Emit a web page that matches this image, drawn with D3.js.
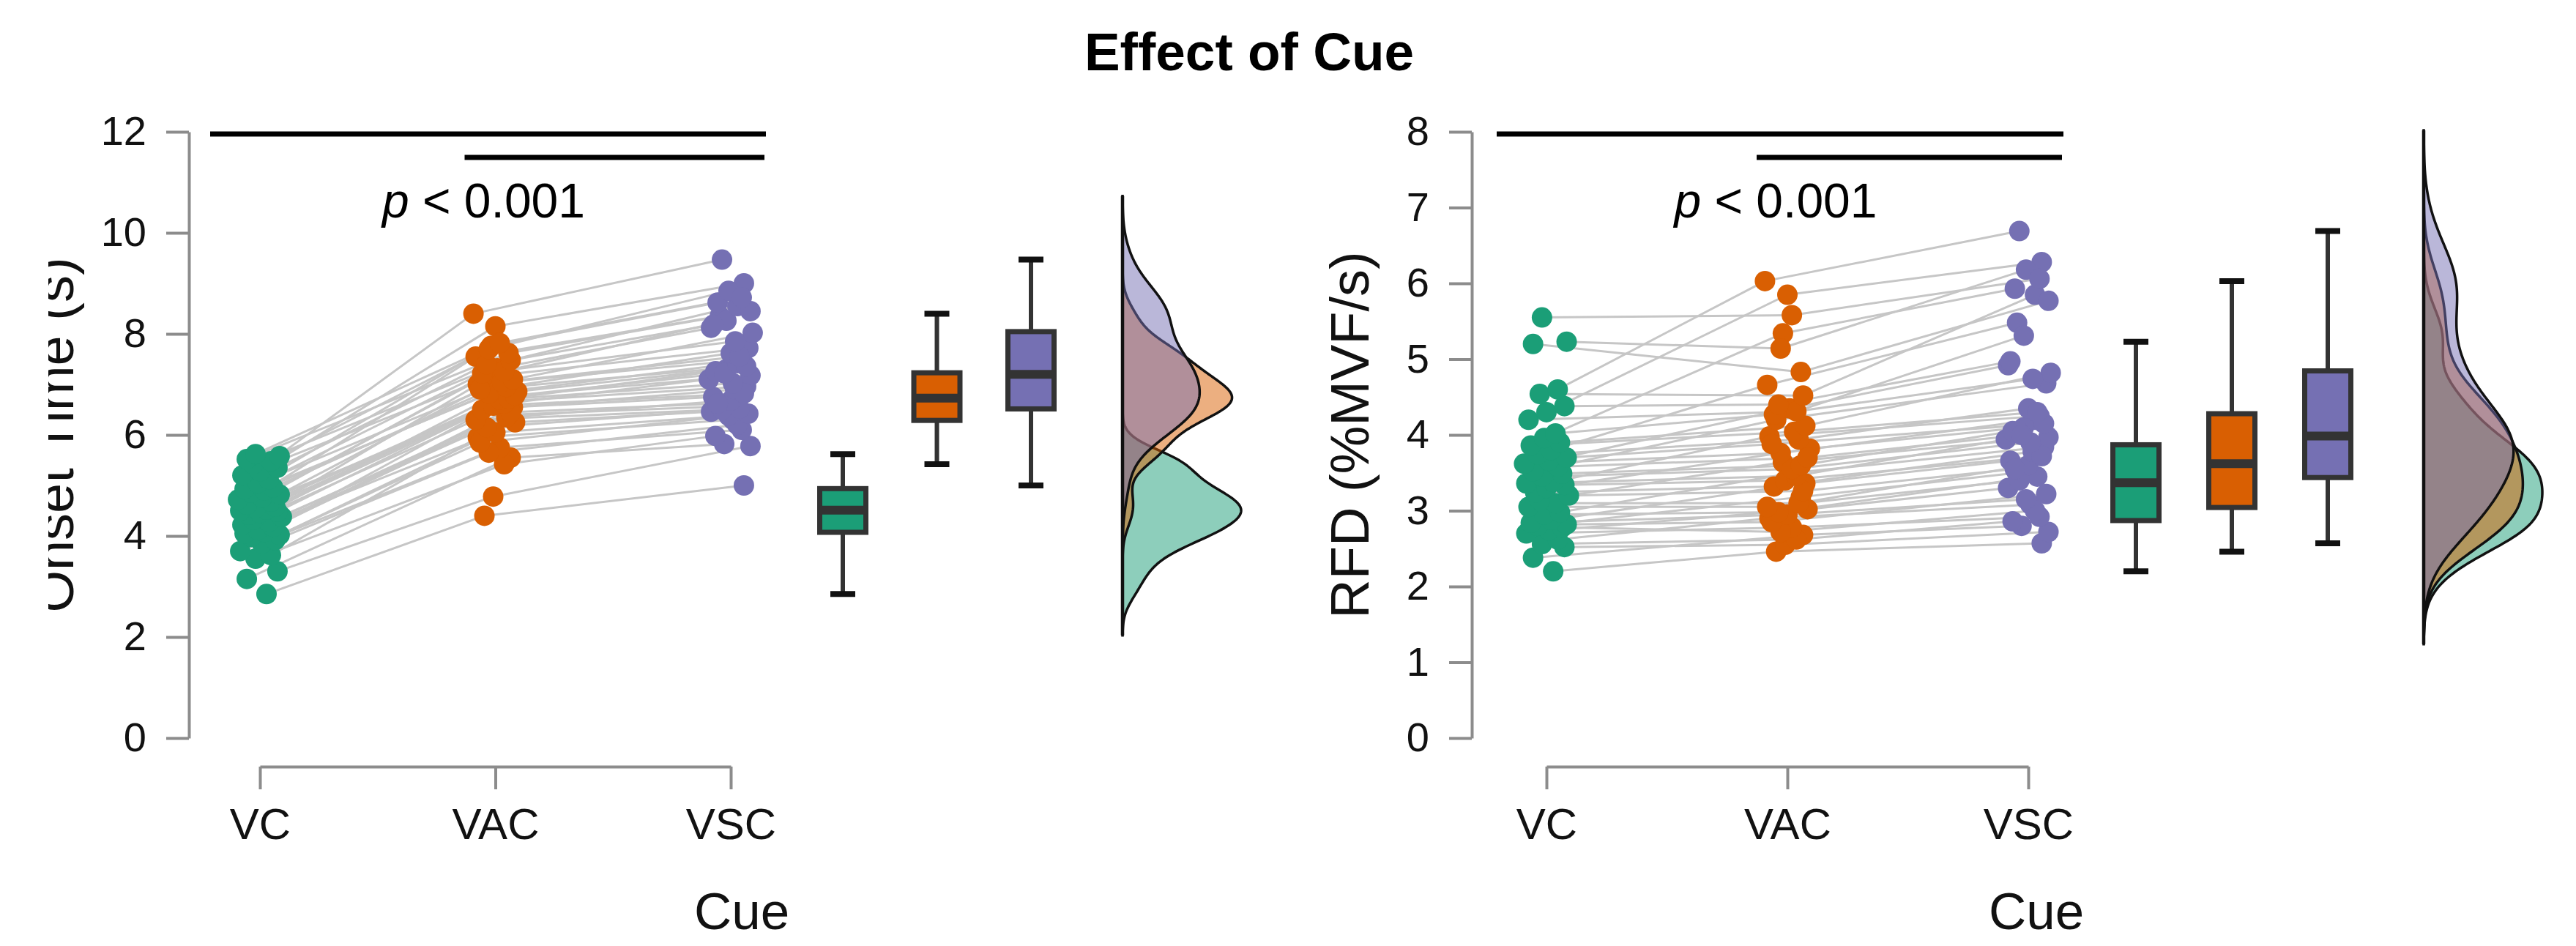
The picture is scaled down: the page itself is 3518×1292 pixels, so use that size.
<!DOCTYPE html>
<html>
<head>
<meta charset="utf-8">
<script src="https://cdn.jsdelivr.net/npm/d3@7"></script>
<style>
  body { margin: 0; background: #fff; }
  svg text { font-family: "Liberation Sans", Arial, sans-serif; }
</style>
</head>
<body>
<svg id="chart" width="3518" height="1292"></svg>
<script>
/* ---------- data (one value per subject, same subject order in every array) ---------- */
const cues = ["VC", "VAC", "VSC"];
const cueColors = ["#1b9e77", "#d95f02", "#7570b3"];

const onsetVC  = [2.85,3.15,3.30,3.55,3.62,3.70,3.85,3.92,3.98,4.02,4.05,4.08,4.12,4.18,4.22,4.28,4.32,4.38,4.42,4.46,4.48,4.50,
                  4.52,4.55,4.58,4.62,4.68,4.72,4.76,4.82,4.86,4.90,4.93,4.96,5.05,5.12,5.20,5.28,5.35,5.42,5.48,5.52,5.58,5.62];
const onsetVAC = [4.40,5.55,4.78,5.42,5.95,5.75,6.25,5.65,6.40,5.85,6.05,6.55,6.15,6.66,6.30,6.35,6.74,6.45,6.50,6.86,6.58,6.62,
                  7.00,6.70,6.72,7.15,6.78,6.82,7.32,6.90,6.95,7.55,7.05,7.10,7.76,7.22,7.26,8.15,7.40,7.48,8.40,7.62,7.70,7.82];
const onsetVSC = [5.00,5.82,5.78,5.98,6.30,6.10,6.46,6.20,6.56,6.42,6.38,6.75,6.52,6.96,6.50,6.68,7.18,6.62,6.90,7.30,6.82,7.10,
                  7.48,7.02,7.26,7.72,7.22,7.42,8.12,7.36,7.62,8.35,7.55,8.02,8.62,7.85,8.26,9.00,8.18,8.55,9.47,8.45,8.85,8.72];

const rfdVC  = [2.20,2.38,2.52,2.56,2.62,2.70,2.74,2.78,2.80,2.82,2.84,2.88,2.95,2.98,3.05,3.10,3.14,3.20,3.24,3.30,3.34,3.36,
                3.38,3.45,3.49,3.52,3.58,3.62,3.66,3.70,3.74,3.80,3.86,3.90,3.96,4.02,4.20,4.30,4.38,4.54,4.60,5.20,5.23,5.55];
const rfdVAC = [2.46,2.68,2.55,2.62,2.90,2.78,3.02,2.72,3.18,2.85,2.95,3.36,2.98,3.50,3.05,3.10,3.64,3.26,3.32,3.82,3.40,3.46,
                3.98,3.55,3.60,4.20,3.70,3.76,4.35,3.88,3.94,4.66,4.04,4.12,5.34,4.27,4.31,5.85,4.40,4.52,6.03,4.83,5.14,5.58];
const rfdVSC = [2.57,2.80,2.72,2.86,3.08,2.92,3.30,3.00,3.50,3.22,3.15,3.66,3.45,3.84,3.40,3.60,3.97,3.55,3.78,4.10,3.72,3.94,
                4.25,3.90,4.05,4.68,4.00,4.20,4.92,4.15,4.35,5.48,4.30,4.82,5.93,4.74,5.31,6.28,4.97,5.85,6.69,5.77,6.18,6.06];

// horizontal jitter of each subject's dot, as a fraction of the jitter half-width
const jitVC  = [0.3,-0.6,0.8,-0.2,0.5,-0.9,0.1,0.7,-0.4,0.9,-0.7,0.2,-0.1,0.6,-0.8,0.4,-0.3,1.0,-0.5,0.0,0.8,-0.9,
                0.3,-0.2,0.7,-0.6,0.5,-1.0,0.1,0.9,-0.4,0.2,-0.7,0.6,-0.1,0.4,-0.8,0.0,0.8,-0.3,0.5,-0.6,0.9,-0.2];
const jitVAC = [-0.5,0.7,-0.1,0.4,-0.8,0.2,0.9,-0.3,0.6,-0.7,0.0,0.8,-0.4,0.3,-0.9,0.5,-0.2,0.7,-0.6,1.0,-0.1,0.4,
                -0.8,0.2,0.6,-0.5,0.9,-0.3,0.1,-0.7,0.5,-0.9,0.3,0.8,-0.2,-0.6,0.4,0.0,-0.4,0.7,-1.0,0.6,-0.3,0.2];
const jitVSC = [0.6,-0.3,0.9,-0.7,0.1,0.5,-0.9,0.3,-0.5,0.8,-0.1,-0.8,0.4,0.7,-0.4,0.0,0.9,-0.6,0.2,-0.2,0.6,-1.0,
                0.5,0.1,-0.7,0.8,-0.3,0.3,-0.9,0.7,0.0,-0.5,0.4,1.0,-0.6,0.2,-0.2,0.6,-0.8,0.3,-0.4,0.9,-0.1,0.5];

const onsetTicks = [0, 2, 4, 6, 8, 10, 12];
const rfdTicks   = [0, 1, 2, 3, 4, 5, 6, 7, 8];
const pLabel = "< 0.001";

/* ---------- helpers ---------- */
const FONT = '"Liberation Sans", Arial, sans-serif';
const AXIS_GREY = "#8c8c8c";
const svg = d3.select("#chart");

function boxStats(v) {
  const s = v.slice().sort(d3.ascending);
  const q1 = d3.quantileSorted(s, 0.25), med = d3.quantileSorted(s, 0.5), q3 = d3.quantileSorted(s, 0.75);
  const iqr = q3 - q1;
  const lo = d3.min(s.filter(d => d >= q1 - 1.5 * iqr));
  const hi = d3.max(s.filter(d => d <= q3 + 1.5 * iqr));
  return { q1, med, q3, lo, hi };
}

// gaussian KDE, R defaults (bw.nrd0, cut = 3)
function kde(v) {
  const s = v.slice().sort(d3.ascending);
  const iqr = d3.quantileSorted(s, 0.75) - d3.quantileSorted(s, 0.25);
  const bw = 0.9 * Math.min(d3.deviation(s), iqr / 1.34) * Math.pow(s.length, -0.2);
  const lo = s[0] - 3 * bw, hi = s[s.length - 1] + 3 * bw;
  return d3.range(300).map(i => {
    const t = lo + (hi - lo) * i / 299;
    const d = d3.mean(s, x => Math.exp(-0.5 * ((t - x) / bw) ** 2)) / (bw * Math.sqrt(2 * Math.PI));
    return [t, d];
  });
}

/* ---------- one raincloud panel ---------- */
function drawPanel(cfg) {
  const g = svg.append("g");
  const y = d3.scaleLinear().domain([0, d3.max(cfg.ticks)]).range([1008, 180]);
  const x = d3.scalePoint().domain(cues).range(cfg.catRange);
  const xb = d3.scalePoint().domain(cues).range(cfg.boxRange);
  const jw = x.step() * 0.093;
  const jit = [jitVC, jitVAC, jitVSC];
  const series = cfg.values;

  // y axis
  const gy = g.append("g").attr("transform", `translate(${cfg.axisX},0)`)
    .call(d3.axisLeft(y).tickValues(cfg.ticks).tickSize(31).tickSizeOuter(0).tickPadding(27));
  gy.attr("font-family", FONT).attr("font-size", 56);
  gy.selectAll(".domain, .tick line").attr("stroke", AXIS_GREY).attr("stroke-width", 4);
  gy.selectAll(".tick text").attr("fill", "#111");

  // x axis
  const gx = g.append("g").attr("transform", "translate(0,1047)")
    .call(d3.axisBottom(x).tickSize(31).tickSizeOuter(0).tickPadding(25));
  gx.attr("font-family", FONT).attr("font-size", 60);
  gx.selectAll(".domain, .tick line").attr("stroke", AXIS_GREY).attr("stroke-width", 4);
  gx.selectAll(".tick text").attr("fill", "#111");

  g.append("text").attr("x", x("VSC") + cfg.cueDx).attr("y", 1269).attr("text-anchor", "middle")
    .attr("font-size", 71).attr("fill", "#111").text("Cue");

  // y label (left one is cut off in the original figure)
  const lg = g.append("g");
  if (cfg.clipX) {
    svg.append("clipPath").attr("id", "clip-" + cfg.key)
      .append("rect").attr("x", cfg.clipX).attr("y", 0).attr("width", 400).attr("height", 1292);
    lg.attr("clip-path", `url(#clip-${cfg.key})`);
  }
  lg.append("text")
    .attr("transform", `translate(${cfg.labelX},${(y.range()[0] + y.range()[1]) / 2}) rotate(-90)`)
    .attr("text-anchor", "middle").attr("font-size", 74).attr("fill", "#111").text(cfg.yLabel);

  // significance bars and p value
  const top = y.range()[1];
  g.append("line").attr("x1", x("VC") - 68).attr("x2", x("VSC") + 48)
    .attr("y1", top + 3).attr("y2", top + 3).attr("stroke", "#000").attr("stroke-width", 7);
  g.append("line").attr("x1", x("VAC") - 42).attr("x2", x("VSC") + 46)
    .attr("y1", top + 35).attr("y2", top + 35).attr("stroke", "#000").attr("stroke-width", 7);
  const pt = g.append("text").attr("x", (x("VC") + x("VSC")) / 2 - 16).attr("y", 297)
    .attr("text-anchor", "middle").attr("font-size", 66).attr("fill", "#000");
  pt.append("tspan").attr("font-style", "italic").text("p");
  pt.append("tspan").text(" " + pLabel);

  // paired lines
  const px = (c, i) => x(cues[c]) + jit[c][i] * jw;
  const n = series[0].length;
  const lines = g.append("g").attr("stroke", "#c6c6c6").attr("stroke-width", 3).attr("fill", "none");
  for (let c = 0; c < 2; c++) {
    lines.selectAll(null).data(d3.range(n)).join("line")
      .attr("x1", i => px(c, i)).attr("y1", i => y(series[c][i]))
      .attr("x2", i => px(c + 1, i)).attr("y2", i => y(series[c + 1][i]));
  }

  // dots
  series.forEach((vals, c) => {
    g.append("g").selectAll("circle").data(vals).join("circle")
      .attr("cx", (d, i) => px(c, i)).attr("cy", d => y(d)).attr("r", 14)
      .attr("fill", cueColors[c]);
  });

  // box plots
  series.forEach((vals, c) => {
    const b = boxStats(vals), cx = xb(cues[c]), hw = 31.5;
    const bg = g.append("g");
    bg.append("line").attr("x1", cx).attr("x2", cx).attr("y1", y(b.hi)).attr("y2", y(b.q3))
      .attr("stroke", "#333").attr("stroke-width", 6);
    bg.append("line").attr("x1", cx).attr("x2", cx).attr("y1", y(b.q1)).attr("y2", y(b.lo))
      .attr("stroke", "#333").attr("stroke-width", 6);
    [b.hi, b.lo].forEach(v => bg.append("line").attr("x1", cx - 17).attr("x2", cx + 17)
      .attr("y1", y(v)).attr("y2", y(v)).attr("stroke", "#111").attr("stroke-width", 8));
    bg.append("rect").attr("x", cx - hw).attr("width", 2 * hw)
      .attr("y", y(b.q3)).attr("height", y(b.q1) - y(b.q3))
      .attr("fill", cueColors[c]).attr("stroke", "#333").attr("stroke-width", 7);
    bg.append("line").attr("x1", cx - hw).attr("x2", cx + hw).attr("y1", y(b.med)).attr("y2", y(b.med))
      .attr("stroke", "#333").attr("stroke-width", 12);
  });

  // half violins (densities share one width scale)
  const dens = series.map(kde);
  const w = d3.scaleLinear().domain([0, d3.max(dens, d => d3.max(d, p => p[1]))]).range([0, 162]);
  const area = d3.area().y(p => y(p[0])).x0(cfg.densX).x1(p => cfg.densX + w(p[1]));
  dens.forEach((d, c) => {
    g.append("path").datum(d).attr("d", area)
      .attr("fill", cueColors[c]).attr("fill-opacity", 0.5)
      .attr("stroke", "#111").attr("stroke-width", 3.5);
  });
  const allT = dens.flat().map(p => p[0]);
  g.append("line").attr("x1", cfg.densX).attr("x2", cfg.densX)
    .attr("y1", y(d3.max(allT))).attr("y2", y(d3.min(allT)))
    .attr("stroke", "#111").attr("stroke-width", 4.5);
}

/* ---------- title + panels ---------- */
svg.append("rect").attr("width", 3518).attr("height", 1292).attr("fill", "#fff");
svg.append("text").attr("x", 1706).attr("y", 96).attr("text-anchor", "middle")
  .attr("font-size", 73).attr("font-weight", "bold").attr("fill", "#000").text("Effect of Cue");

drawPanel({ key: "onset", values: [onsetVC, onsetVAC, onsetVSC], ticks: onsetTicks,
  yLabel: "Onset Time (s)", axisX: 258, catRange: [355, 998], boxRange: [1151, 1408],
  densX: 1533, labelX: 100, clipX: 66, cueDx: 15 });

drawPanel({ key: "rfd", values: [rfdVC, rfdVAC, rfdVSC], ticks: rfdTicks,
  yLabel: "RFD (%MVF/s)", axisX: 2010, catRange: [2112, 2770], boxRange: [2917, 3179],
  densX: 3310, labelX: 1869, clipX: null, cueDx: 11 });
</script>
</body>
</html>
